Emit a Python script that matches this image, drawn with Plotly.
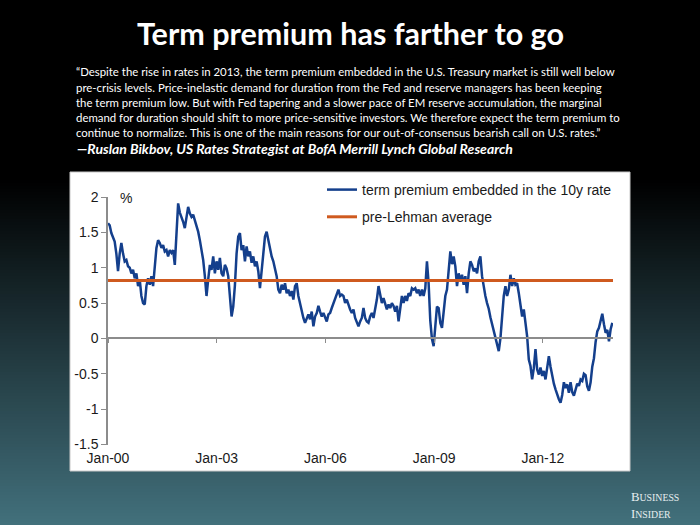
import plotly.graph_objects as go
import pandas as pd

# ---------------- data ----------------
START = "2000-01-01"
DATA_END = "2013-12-01"
RANGE_END = "2013-12-08"

term_premium = [
    1.63, 1.60, 1.49, 1.42, 1.37, 1.20, 0.95, 1.20, 1.35, 1.20,
    1.09, 1.11, 1.02, 1.00, 0.92, 0.97, 0.85, 0.92, 0.74, 0.83,
    0.60, 0.50, 0.48, 0.74, 0.85, 0.76, 0.88, 0.74, 0.97, 1.28,
    1.39, 1.35, 1.28, 1.32, 1.23, 1.25, 1.16, 1.25, 1.21, 1.25,
    1.04, 1.50, 1.91, 1.78, 1.72, 1.65, 1.56, 1.70, 1.86, 1.77,
    1.72, 1.75, 1.68, 1.58, 1.51, 1.39, 1.25, 1.11, 0.88, 0.60,
    0.83, 1.04, 0.97, 1.16, 0.92, 1.09, 0.97, 1.14, 0.92, 0.88,
    1.04, 0.99, 0.88, 0.60, 0.31, 0.45, 0.75, 1.20, 1.44, 1.49,
    1.25, 1.32, 1.09, 1.30, 1.16, 1.23, 1.07, 1.16, 1.02, 1.09,
    0.95, 0.71, 0.97, 1.25, 1.44, 1.51, 1.39, 1.32, 1.16, 1.09,
    1.00, 0.88, 0.69, 0.64, 0.76, 0.69, 0.78, 0.64, 0.69, 0.60,
    0.67, 0.55, 0.74, 0.78, 0.60, 0.48, 0.38, 0.29, 0.22, 0.29,
    0.34, 0.27, 0.38, 0.17, 0.31, 0.36, 0.46, 0.38, 0.31, 0.36,
    0.29, 0.24, 0.34, 0.36, 0.43, 0.50, 0.55, 0.64, 0.69, 0.60,
    0.62, 0.60, 0.50, 0.55, 0.46, 0.41, 0.36, 0.41, 0.29, 0.24,
    0.17, 0.24, 0.29, 0.43, 0.29, 0.24, 0.22, 0.31, 0.36, 0.29,
    0.41, 0.55, 0.74, 0.62, 0.50, 0.57, 0.50, 0.41, 0.48, 0.43,
    0.50, 0.46, 0.38, 0.46, 0.24, 0.41, 0.60, 0.50, 0.60, 0.53,
    0.64, 0.60, 0.71, 0.69, 0.71, 0.64, 0.69, 0.60, 0.69, 0.60,
    0.71, 1.09, 0.78, 0.25, -0.01, -0.11, 0.22, 0.45, 0.43, 0.22,
    0.15, 0.35, 0.60, 0.69, 1.02, 1.23, 1.05, 1.16, 1.02, 0.74,
    0.92, 0.81, 0.90, 0.76, 0.88, 0.64, 0.92, 1.09, 1.04, 0.95,
    0.99, 0.92, 1.09, 1.16, 0.88, 0.70, 0.60, 0.50, 0.42, 0.30,
    0.20, 0.10, 0.00, -0.08, -0.18, 0.00, 0.31, 0.60, 0.74, 0.60,
    0.69, 0.90, 0.74, 0.85, 0.76, 0.78, 0.64, 0.50, 0.31, 0.41,
    0.22, 0.03, -0.30, -0.39, -0.58, -0.42, -0.15, -0.44, -0.51, -0.41,
    -0.53, -0.46, -0.58, -0.44, -0.25, -0.40, -0.55, -0.64, -0.72, -0.80,
    -0.86, -0.91, -0.80, -0.62, -0.70, -0.65, -0.77, -0.62, -0.76, -0.81,
    -0.72, -0.64, -0.67, -0.58, -0.60, -0.50, -0.52, -0.68, -0.74, -0.62,
    -0.40, -0.28, -0.05, 0.10, 0.15, 0.25, 0.35, 0.20, 0.08, 0.12,
    -0.04, 0.13, 0.22,
]
dates = pd.date_range(START, DATA_END, periods=len(term_premium))

pre_lehman_avg = 0.82

series_names = ["term premium embedded in the 10y rate", "pre-Lehman average"]
x_tick_dates = ["2000-01-01", "2003-01-01", "2006-01-01", "2009-01-01", "2012-01-01"]
x_tick_labels = ["Jan-00", "Jan-03", "Jan-06", "Jan-09", "Jan-12"]
y_tick_values = [2, 1.5, 1, 0.5, 0, -0.5, -1, -1.5]
y_tick_labels = ["2", "1.5", "1", "0.5", "0", "-0.5", "-1", "-1.5"]
Y_MIN, Y_MAX = -1.5, 2

title_text = "Term premium has farther to go"
quote_lines = [
    "\u201cDespite the rise in rates in 2013, the term premium embedded in the U.S. Treasury market is still well below",
    "pre-crisis levels. Price-inelastic demand for duration from the Fed and reserve managers has been keeping",
    "the term premium low. But with Fed tapering and a slower pace of EM reserve accumulation, the marginal",
    "demand for duration should shift to more price-sensitive investors. We therefore expect the term premium to",
    "continue to normalize. This is one of the main reasons for our out-of-consensus bearish call on U.S. rates.\u201d",
]
attribution = "\u2014Ruslan Bikbov, US Rates Strategist at BofA Merrill Lynch Global Research"

# ---------------- layout helpers ----------------
W, H = 700, 525


def py(p):
    return 1 - p / H


def px(p):
    return p / W


shapes = []
# background gradient (black -> teal)
top_c = (0, 0, 0)
bot_c = (0x42, 0x70, 0x7c)
g0 = 180
shapes.append(dict(type="rect", xref="paper", yref="paper", x0=0, x1=1, y0=py(g0), y1=1,
                   fillcolor="black", line=dict(width=0), layer="below"))
step = 3
for y0 in range(g0, H, step):
    f = (y0 + step / 2 - g0) / (H - g0)
    c = tuple(round(a + (b - a) * f) for a, b in zip(top_c, bot_c))
    shapes.append(dict(type="rect", xref="paper", yref="paper", x0=0, x1=1,
                       y0=py(min(H, y0 + step + 0.5)), y1=py(y0),
                       fillcolor="rgb(%d,%d,%d)" % c, line=dict(width=0), layer="below"))
# white chart panel
shapes.append(dict(type="rect", xref="paper", yref="paper", x0=px(70), x1=px(630),
                   y0=py(471), y1=py(172), fillcolor="white",
                   line=dict(width=1, color="#c8c8c8"), layer="below"))

y_dom = [py(444.5), py(197)]
x_dom = [px(108), px(613)]
zero_pos = y_dom[0] + (0 - Y_MIN) / (Y_MAX - Y_MIN) * (y_dom[1] - y_dom[0])

axis_grey = "#8c8c8c"
tick_font = dict(family="Liberation Sans, Arial, sans-serif", size=14, color="#1a1a1a")

fig = go.Figure()
fig.add_trace(go.Scatter(
    x=dates, y=term_premium, mode="lines", name=series_names[0],
    line=dict(color="#143f8c", width=2.5), legendgroup="a",
    xaxis="x", yaxis="y", hoverinfo="skip"))
fig.add_trace(go.Scatter(
    x=[START, RANGE_END], y=[pre_lehman_avg, pre_lehman_avg], mode="lines",
    name=series_names[1], line=dict(color="#cf5a1f", width=3), legendgroup="b",
    xaxis="x2", yaxis="y", hoverinfo="skip"))

quote_font = dict(family="Lato, sans-serif", size=11.4, color="white")
annotations = [
    dict(text="<b>" + title_text + "</b>", x=0.5, y=py(33), xref="paper", yref="paper",
         xanchor="center", yanchor="middle", showarrow=False,
         font=dict(family="Lato, sans-serif", size=30.5, color="white")),
]
for i, line in enumerate(quote_lines):
    annotations.append(dict(text=line, x=px(74), y=py(72 + 15.2 * i), xref="paper",
                            yref="paper", xanchor="left", yanchor="middle", align="left",
                            showarrow=False, font=quote_font))
annotations += [
    dict(text="<b><i>" + attribution + "</i></b>", x=px(75), y=py(148), xref="paper",
         yref="paper", xanchor="left", yanchor="middle", align="left", showarrow=False,
         font=dict(family="Lato, sans-serif", size=14, color="white")),
    dict(text="%", x=px(118), y=py(198), xref="paper", yref="paper", xanchor="left",
         yanchor="middle", showarrow=False, font=tick_font),
    dict(text="B<span style='font-size:9.8px'>USINESS</span><br>I<span style='font-size:9.8px'>NSIDER</span>",
         x=px(681), y=py(505), xref="paper", yref="paper", xanchor="right", yanchor="middle",
         align="left", showarrow=False,
         font=dict(family="Liberation Serif, serif", size=12.8, color="#e6eef0")),
]

fig.update_layout(
    width=W, height=H, autosize=False,
    margin=dict(l=0, r=0, t=0, b=0, pad=0, autoexpand=False),
    paper_bgcolor="black", plot_bgcolor="rgba(0,0,0,0)",
    shapes=shapes, annotations=annotations,
    showlegend=True,
    legend=dict(x=px(322), y=py(174), xanchor="left", yanchor="top",
                bgcolor="rgba(0,0,0,0)", font=tick_font, tracegroupgap=6,
                itemwidth=30),
    xaxis=dict(type="date", range=[START, RANGE_END], domain=x_dom,
               anchor="free", position=zero_pos, automargin=False,
               showline=True, linecolor=axis_grey, linewidth=2,
               ticks="outside", ticklen=4, tickcolor=axis_grey, tickwidth=1,
               tickvals=x_tick_dates, showticklabels=False,
               showgrid=False, zeroline=False, fixedrange=True),
    xaxis2=dict(type="date", range=[START, RANGE_END], overlaying="x", anchor="y",
                side="bottom", showline=False, showgrid=False, zeroline=False,
                automargin=False,
                ticks="outside", ticklen=1, tickcolor="rgba(0,0,0,0)",
                tickvals=x_tick_dates, ticktext=x_tick_labels, tickfont=tick_font,
                fixedrange=True),
    yaxis=dict(range=[Y_MIN, Y_MAX], domain=y_dom, anchor="x", automargin=False,
               showline=True, linecolor=axis_grey, linewidth=1.5,
               ticks="outside", ticklen=5, tickcolor=axis_grey,
               tickvals=y_tick_values, ticktext=y_tick_labels, tickfont=tick_font,
               showgrid=False, zeroline=False, fixedrange=True),
)

fig.write_html(
    "out.html",
    config={"displayModeBar": False},
    post_script="document.documentElement.style.margin='0';"
                "document.documentElement.style.overflow='hidden';"
                "document.body.style.margin='0';document.body.style.overflow='hidden';",
)
